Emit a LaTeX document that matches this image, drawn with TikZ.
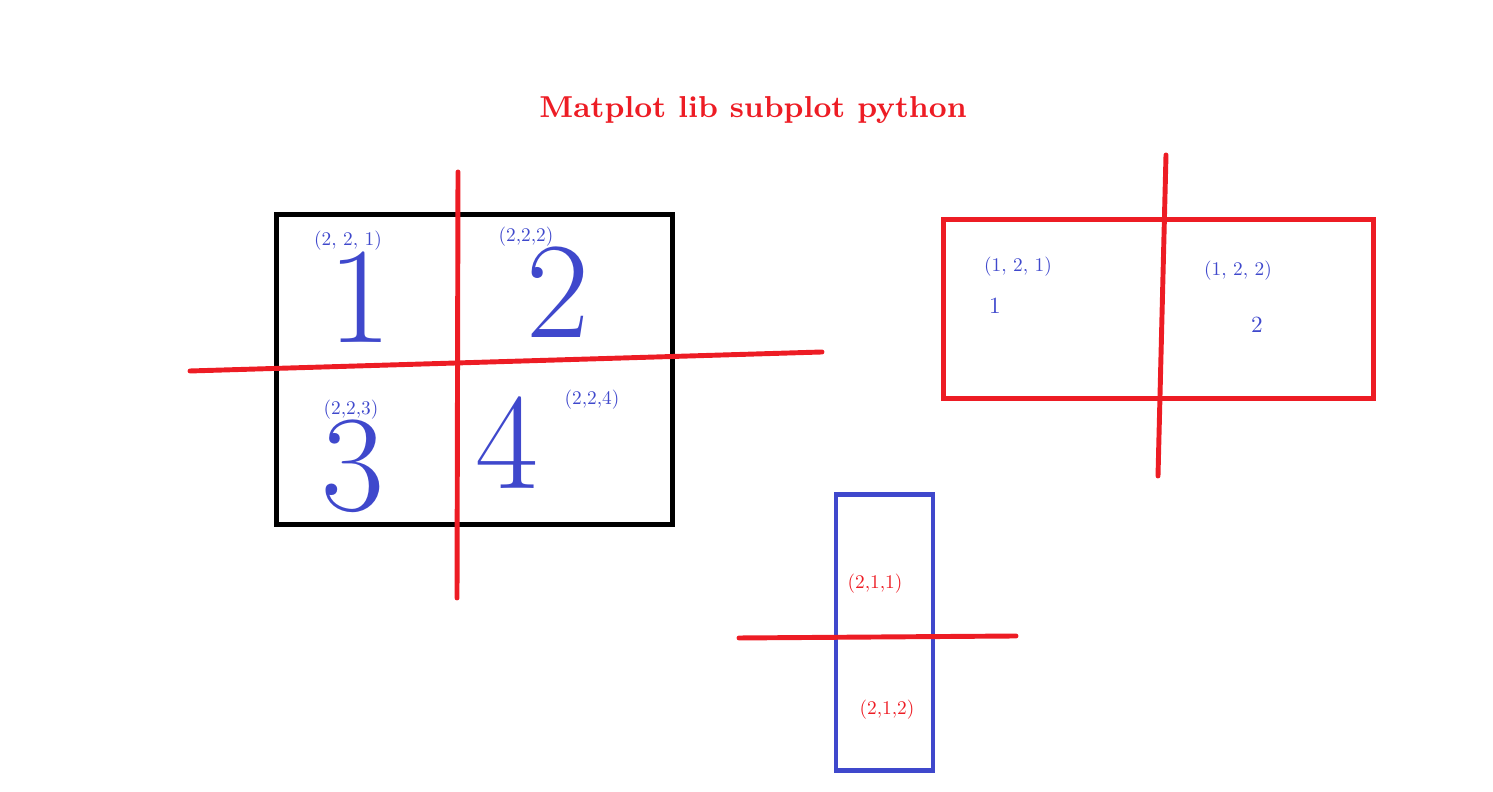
\documentclass[tikz,border=0pt]{standalone}
\usepackage{tikz}
\usetikzlibrary{positioning}
\definecolor{paintred}{RGB}{237,28,36}
\definecolor{paintblue}{RGB}{63,72,204}
% small labels: 10pt text shrunk, so the glyphs keep their 10pt shape
\newcommand{\tup}[1]{\scalebox{0.55}{#1}}
\tikzset{
    plotbox/.style={
           rectangle,
           line width=1.4pt,
           inner sep=0pt,
           },
    cut/.style={
           draw=paintred,
           line width=1.4pt,
           line cap=round,
           },
    tuple/.style={
           text=paintblue,
           inner sep=0pt,
           },
    bigdigit/.style={
           text=paintblue,
           inner sep=0pt,
           font=\fontsize{39}{40}\selectfont,
           },
}

\begin{document}
\begin{tikzpicture}[x=0.01cm,y=-0.01cm]
 \useasboundingbox (0,0) rectangle (1493,792);

 % Title
 \node[text=paintred,
 font=\fontsize{8.6}{10}\selectfont\bfseries] (title)
 at (753,110) {Matplot lib subplot python};

 % Grid of 2x2 subplots (black box)
 \node[plotbox,draw=black,
 minimum width=3.95cm,     % box width
 minimum height=3.09cm]    % box height
 (grid) at (474.5,369.5) {};

 \node[tuple] (t221) at (348,241) {\tup{(2, 2, 1)}};
 \node[bigdigit] (d1) at (360,297) {1};
 \node[tuple] (t222) at (526,237) {\tup{(2,2,2)}};
 \node[bigdigit] (d2) at (558,292) {2};
 \node[tuple] (t223) at (351,410) {\tup{(2,2,3)}};
 \node[bigdigit] (d3) at (353,466) {3};
 \node[tuple] (t224) at (592,400) {\tup{(2,2,4)}};
 \node[bigdigit] (d4) at (507,443) {4};

 % Row of 1x2 subplots (red box)
 \node[plotbox,draw=paintred,
 minimum width=4.29cm,
 minimum height=1.78cm]
 (row) at (1158.5,309) {};

 \node[tuple] (t121) at (1018,267) {\tup{(1, 2, 1)}};
 \node[tuple] (s1) at (995,306) {\scalebox{0.66}{1}};
 \node[tuple] (t122) at (1238,271) {\tup{(1, 2, 2)}};
 \node[tuple] (s2) at (1257,325) {\scalebox{0.66}{2}};

 % Column of 2x1 subplots (blue box)
 \node[plotbox,draw=paintblue,
 minimum width=0.97cm,
 minimum height=2.75cm]
 (col) at (884.5,632.5) {};

 \node[tuple,text=paintred] (t211) at (875,584) {\tup{(2,1,1)}};
 \node[tuple,text=paintred] (t212) at (887,710) {\tup{(2,1,2)}};

 % end points of the red cuts
 \coordinate (gridtop) at (458,172);
 \coordinate (gridbot) at (457,598);
 \coordinate (gridleft) at (190,371);
 \coordinate (gridright) at (822,352);
 \coordinate (rowtop) at (1166,155);
 \coordinate (rowbot) at (1158,476);
 \coordinate (colleft) at (739,638);
 \coordinate (colright) at (1016,636);

 \draw[cut] (gridtop) -- (gridbot);
 \draw[cut] (gridleft) -- (gridright);
 \draw[cut] (rowtop) -- (rowbot);
 \draw[cut] (colleft) -- (colright);
\end{tikzpicture}
\end{document}
